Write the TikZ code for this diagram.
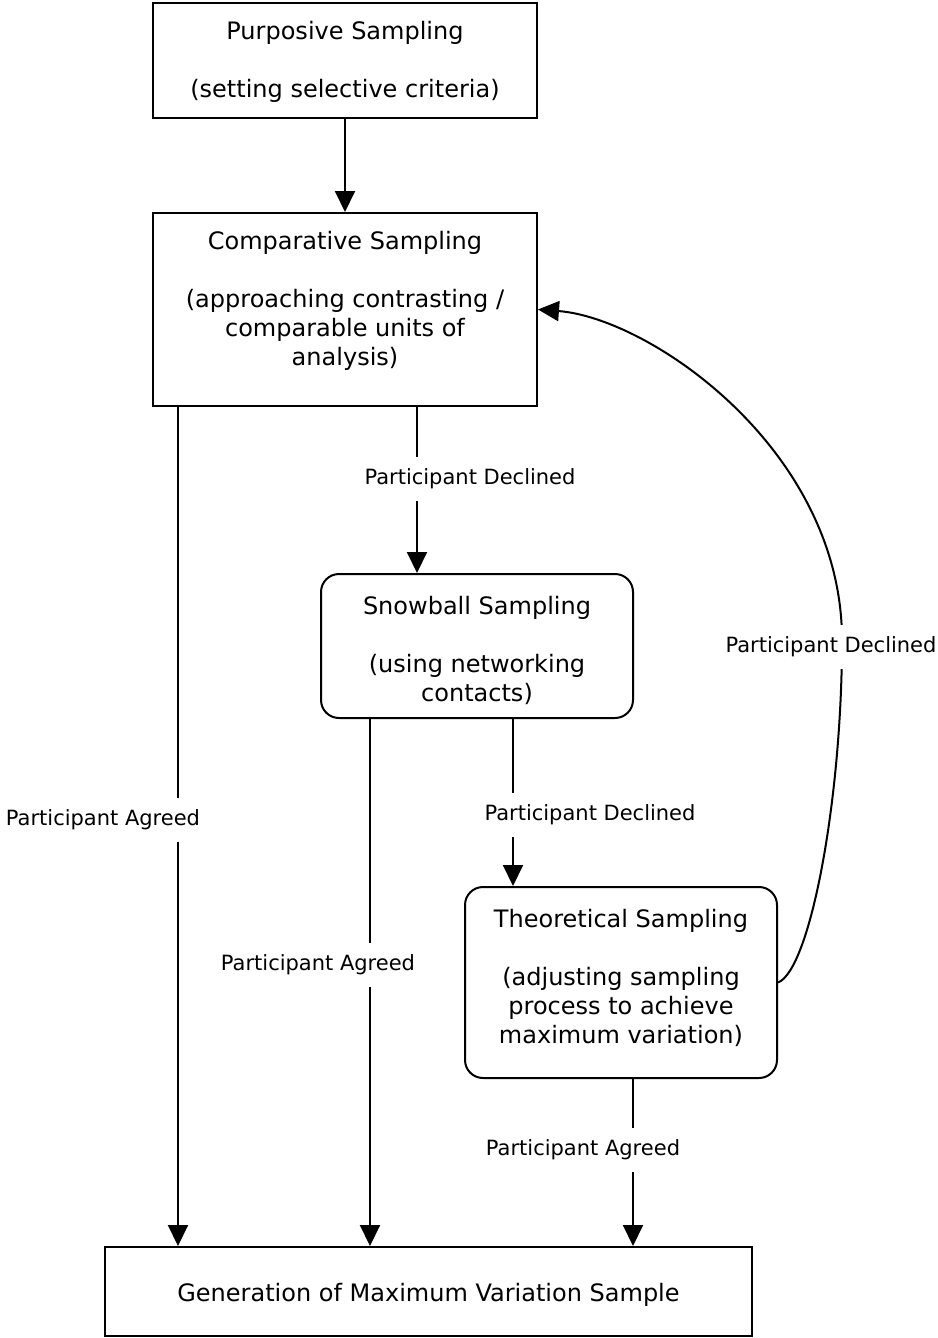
\documentclass[tikz,border=0pt]{standalone}
\usepackage{fontspec}
\setmainfont{DejaVu Sans}
\usetikzlibrary{arrows.meta}

\tikzset{
  box/.style={draw, line width=1.5pt, rectangle, inner sep=0pt},
  roundbox/.style={box, rounded corners=13.5pt},
  boxtext/.style={inner sep=0pt, align=center,
    font=\fontsize{18pt}{21.75pt}\selectfont},
  conn/.style={line width=1.5pt, -{Triangle[width=15pt,length=15.75pt]}},
  flowlabel/.style={fill=white, inner xsep=1pt, inner ysep=0pt,
    minimum height=33pt, font=\fontsize{15.75pt}{19pt}\selectfont}
}

\begin{document}
\begin{tikzpicture}[x=0.75pt, y=-0.75pt]
\useasboundingbox (0,0) rectangle (938,1338);

% boxes
\node[box, minimum width=288pt, minimum height=86.25pt] (purp) at (345,60.5) {};
\node[box, minimum width=288pt, minimum height=144.75pt] (comp) at (345,309.5) {};
\node[roundbox, minimum width=234pt, minimum height=108pt] (snow) at (477,646) {};
\node[roundbox, minimum width=234pt, minimum height=143.25pt] (theo) at (621,982.5) {};
\node[box, minimum width=485.25pt, minimum height=66.75pt] (gen) at (428.5,1291.5) {};

% box texts
\node[boxtext, below=14.25pt] (purp-t) at (purp.north)
  {Purposive Sampling\\[21.75pt](setting selective criteria)};
\node[boxtext, below=14.25pt] (comp-t) at (comp.north)
  {Comparative Sampling\\[21.75pt](approaching contrasting /\\comparable units of\\analysis)};
\node[boxtext, below=17.25pt] (snow-t) at (snow.north)
  {Snowball Sampling\\[21.75pt](using networking\\contacts)};
\node[boxtext, below=17.25pt] (theo-t) at (theo.north)
  {Theoretical Sampling\\[21.75pt](adjusting sampling\\process to achieve\\maximum variation)};
\node[boxtext] (gen-t) at ([yshift=-2.25pt]gen.center)
  {Generation of Maximum Variation Sample};

% connectors
\draw[conn] (purp) -- (comp);
\draw[conn] ([xshift=54pt]comp.south) -- ([xshift=54pt]comp.south |- snow.north);
\draw[conn] ([xshift=-125.25pt]comp.south) -- ([xshift=-125.25pt]comp.south |- gen.north);
\draw[conn] ([xshift=-80.25pt]snow.south) -- ([xshift=-80.25pt]snow.south |- gen.north);
\draw[conn] ([xshift=27pt]snow.south) -- ([xshift=27pt]snow.south |- theo.north);
\draw[conn] ([xshift=9pt]theo.south) -- ([xshift=9pt]theo.south |- gen.north);

% feedback loop back to comparative sampling
\coordinate (loopmid) at (842,640);
\draw[conn] (theo.east) .. controls (810,970) and (842,800) .. (loopmid)
  .. controls (842,450) and (650,318) .. (comp.east);

% connector labels
\node[flowlabel] (l-cs) at (470,478.5) {Participant Declined};
\node[flowlabel] (l-cg) at (103,820) {Participant Agreed};
\node[flowlabel] (l-sg) at (318,965) {Participant Agreed};
\node[flowlabel] (l-st) at (590,815) {Participant Declined};
\node[flowlabel] (l-tg) at (583,1150) {Participant Agreed};
\node[flowlabel] (l-tc) at (831,646.5) {Participant Declined};
\end{tikzpicture}
\end{document}
